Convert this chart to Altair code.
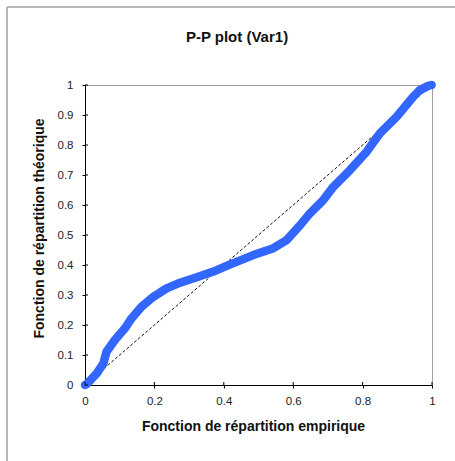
import altair as alt
import pandas as pd

emp_x = [0.0, 0.005, 0.034, 0.053, 0.062, 0.086, 0.115, 0.134, 0.163, 0.197, 0.235, 0.274,
         0.322, 0.37, 0.408, 0.485, 0.543, 0.581, 0.62, 0.648, 0.687, 0.716, 0.764,
         0.812, 0.85, 0.898, 0.946, 0.965, 0.989, 0.999]
theo_y = [0.0, 0.003, 0.039, 0.072, 0.111, 0.15, 0.189, 0.222, 0.261, 0.294, 0.322, 0.341,
          0.359, 0.378, 0.397, 0.433, 0.456, 0.483, 0.533, 0.572, 0.617, 0.661, 0.717,
          0.778, 0.839, 0.894, 0.961, 0.983, 0.997, 1.0]
diag = [0.0, 1.0]
x_ticks = [0, 0.2, 0.4, 0.6, 0.8, 1]
y_ticks = [0, 0.1, 0.2, 0.3, 0.4, 0.5, 0.6, 0.7, 0.8, 0.9, 1]
title_text = ["P-P plot  (Var1)"]

FONT = "Liberation Sans"
BLUE = "#3366ff"

curve = pd.DataFrame({"x": emp_x, "y": theo_y, "o": list(range(len(emp_x)))})
diag_df = pd.DataFrame({"x": diag, "y": diag})
xt_df = pd.DataFrame({"x": x_ticks})
yt_df = pd.DataFrame({"y": y_ticks})
title_df = pd.DataFrame({"t": title_text})

xscale = alt.Scale(domain=[0, 1], nice=False)
yscale = alt.Scale(domain=[0, 1], nice=False)

x_axis = alt.Axis(values=x_ticks, format=".1~f", grid=False, title="Fonction de répartition empirique",
                  labelFont=FONT, labelFontSize=11.5, labelColor="#222", labelPadding=7,
                  labelOverlap=False, labelFlush=False,
                  titleFont=FONT, titleFontSize=14, titleFontWeight="bold", titleColor="#111",
                  titlePadding=13, titleX=168, domainColor="black", tickColor="black", tickSize=3)
y_axis = alt.Axis(values=y_ticks, format=".1~f", grid=False, title="Fonction de répartition théorique",
                  labelFont=FONT, labelFontSize=11.5, labelColor="#222", labelPadding=9,
                  labelOverlap=False, labelFlush=False,
                  titleFont=FONT, titleFontSize=14, titleFontWeight="bold", titleColor="#111",
                  titlePadding=11, titleY=143, domainColor="black", tickColor="black", tickSize=3)

X = alt.X("x:Q", scale=xscale, axis=x_axis)
Y = alt.Y("y:Q", scale=yscale, axis=y_axis)

frame = alt.Chart(diag_df).mark_rect(fillOpacity=0, stroke="#a0a0a0", strokeWidth=1).encode(
    x=alt.value(-78), x2=alt.value(420), y=alt.value(-78), y2=alt.value(420)
)

title = alt.Chart(title_df).mark_text(font=FONT, fontSize=15, fontWeight="bold", color="#111",
                                      align="center", baseline="middle").encode(
    text="t:N", x=alt.value(152), y=alt.value(-48)
)

diag_line = alt.Chart(diag_df).mark_line(color="#111", strokeWidth=1, strokeDash=[3, 2]).encode(
    x=X, y=Y,
)

pp = alt.Chart(curve).mark_line(color=BLUE, strokeWidth=8.5, strokeCap="round", strokeJoin="round").encode(
    x=X, y=Y, order="o:Q",
)

xt = alt.Chart(xt_df).mark_rule(color="black", strokeWidth=1).encode(
    x=X, y=alt.value(297), y2=alt.value(300)
)
yt = alt.Chart(yt_df).mark_rule(color="black", strokeWidth=1).encode(
    y=Y, x=alt.value(0), x2=alt.value(3)
)

chart = alt.layer(frame, title, diag_line, pp, xt, yt).properties(
    width=347,
    height=300,
    autosize=alt.AutoSizeParams(type="none"),
    padding={"left": 85, "top": 85, "right": 23, "bottom": 76},
    background="white",
).configure_view(stroke="#a0a0a0", strokeWidth=1)

chart.save("out.html", embed_options={"renderer": "svg", "actions": False})
